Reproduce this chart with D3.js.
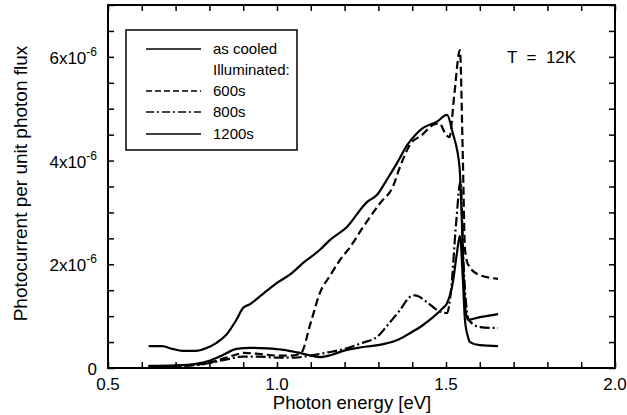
<!DOCTYPE html>
<html>
<head>
<meta charset="utf-8">
<script src="https://cdn.jsdelivr.net/npm/d3@7"></script>
<style>
  body { margin: 0; background: #fff; }
  svg { display: block; font-family: "Liberation Sans", Arial, sans-serif; }
</style>
</head>
<body>
<div id="chart"></div>
<script>
// photocurrent spectra, values in units of 1e-6 (per unit photon flux)
const asCooled = [
  [0.62, 0.42], [0.66, 0.42], [0.69, 0.37], [0.72, 0.33], [0.76, 0.33], [0.79, 0.38],
  [0.82, 0.48], [0.85, 0.64], [0.88, 0.93], [0.90, 1.16], [0.92, 1.23], [0.955, 1.41],
  [1.00, 1.64], [1.04, 1.81], [1.08, 2.04], [1.127, 2.28], [1.157, 2.47], [1.207, 2.72],
  [1.266, 3.2], [1.296, 3.34], [1.325, 3.63], [1.355, 3.95], [1.385, 4.3], [1.41, 4.5],
  [1.432, 4.63], [1.473, 4.75], [1.503, 4.88], [1.52, 4.53], [1.54, 3.88], [1.546, 3.0],
  [1.552, 1.8], [1.558, 1.1], [1.565, 0.93], [1.60, 0.98], [1.654, 1.04]
];
const ill600 = [
  [0.62, 0.03], [0.70, 0.04], [0.76, 0.06], [0.80, 0.10], [0.84, 0.18], [0.88, 0.26],
  [0.90, 0.29], [0.95, 0.27], [1.00, 0.24], [1.04, 0.24], [1.07, 0.28], [1.10, 0.88],
  [1.127, 1.45], [1.157, 1.78], [1.186, 2.08], [1.216, 2.33], [1.255, 2.72], [1.305, 3.18],
  [1.343, 3.5], [1.364, 3.88], [1.393, 4.3], [1.43, 4.5], [1.462, 4.69], [1.48, 4.72],
  [1.50, 4.5], [1.51, 4.45], [1.525, 5.3], [1.541, 6.13], [1.55, 4.0], [1.556, 2.3],
  [1.565, 2.0], [1.60, 1.79], [1.654, 1.72]
];
const ill800 = [
  [0.62, 0.03], [0.72, 0.04], [0.78, 0.07], [0.84, 0.15], [0.90, 0.22], [0.95, 0.22],
  [1.00, 0.2], [1.05, 0.2], [1.10, 0.24], [1.15, 0.3], [1.20, 0.37], [1.25, 0.48],
  [1.296, 0.6], [1.33, 0.85], [1.364, 1.12], [1.393, 1.37], [1.408, 1.4], [1.444, 1.27],
  [1.473, 1.12], [1.503, 1.06], [1.515, 1.5], [1.53, 2.8], [1.543, 3.6], [1.552, 2.0],
  [1.56, 1.2], [1.567, 0.93], [1.60, 0.79], [1.654, 0.77]
];
const ill1200 = [
  [0.62, 0.04], [0.70, 0.05], [0.76, 0.08], [0.80, 0.14], [0.84, 0.25], [0.88, 0.37],
  [0.92, 0.39], [0.97, 0.38], [1.02, 0.35], [1.06, 0.3], [1.10, 0.24], [1.127, 0.21],
  [1.16, 0.25], [1.196, 0.33], [1.25, 0.4], [1.314, 0.46], [1.36, 0.55], [1.393, 0.67],
  [1.43, 0.82], [1.462, 0.98], [1.49, 1.15], [1.503, 1.25], [1.52, 1.64], [1.532, 2.2],
  [1.541, 2.55], [1.55, 1.7], [1.556, 0.93], [1.565, 0.6], [1.571, 0.5], [1.60, 0.44],
  [1.654, 0.42]
];

const xLabels = [0.5, 1.0, 1.5, 2.0];
const yLabels = [0, 2, 4, 6];

const series = [
  { name: 'as cooled', data: asCooled, dash: null },
  { name: '600s', data: ill600, dash: '8,4' },
  { name: '800s', data: ill800, dash: '10,3,2,3' },
  { name: '1200s', data: ill1200, dash: null }
];

const W = 627, H = 415;
const margin = { top: 5, right: 12, bottom: 47, left: 108 };
const width = W - margin.left - margin.right;
const height = H - margin.top - margin.bottom;

const svg = d3.select('#chart').append('svg')
  .attr('width', W)
  .attr('height', H);
const g = svg.append('g').attr('transform', `translate(${margin.left},${margin.top})`);

const x = d3.scaleLinear().domain([0.5, 2.0]).range([0, width]);
const y = d3.scaleLinear().domain([0, 7]).range([height, 0]);

const xTicks = d3.range(5, 21).map(d => d / 10);
const yTicks = d3.range(0, 15).map(d => d / 2);

// ticks on all four sides, pointing inward
function styleAxis(sel) {
  sel.select('.domain').remove();
  sel.selectAll('.tick line').attr('stroke', '#000').attr('stroke-width', 1.5);
  sel.selectAll('.tick text').remove();
}
g.append('g').attr('transform', `translate(0,${height})`)
  .call(d3.axisBottom(x).tickValues(xTicks).tickSizeInner(-6).tickSizeOuter(0)).call(styleAxis);
g.append('g')
  .call(d3.axisTop(x).tickValues(xTicks).tickSizeInner(-6).tickSizeOuter(0)).call(styleAxis);
g.append('g')
  .call(d3.axisLeft(y).tickValues(yTicks).tickSizeInner(-6).tickSizeOuter(0)).call(styleAxis);
g.append('g').attr('transform', `translate(${width},0)`)
  .call(d3.axisRight(y).tickValues(yTicks).tickSizeInner(-6).tickSizeOuter(0)).call(styleAxis);

g.append('rect')
  .attr('width', width).attr('height', height)
  .attr('fill', 'none').attr('stroke', '#000').attr('stroke-width', 2);

// tick labels
g.selectAll('.xlab').data(xLabels).join('text')
  .attr('x', d => x(d))
  .attr('y', height + 22)
  .attr('text-anchor', 'middle')
  .style('font-size', '17px')
  .text(d => d.toFixed(1));

yLabels.forEach(v => {
  const t = g.append('text')
    .attr('x', -11)
    .attr('y', y(v) + 7)
    .attr('text-anchor', 'end')
    .style('font-size', '17px');
  if (v === 0) {
    t.text('0');
  } else {
    t.append('tspan').text(v + 'x10');
    t.append('tspan').attr('dy', -8).style('font-size', '12px').text('-6');
  }
});

// axis titles
g.append('text')
  .attr('x', 244)
  .attr('y', height + 41)
  .attr('text-anchor', 'middle')
  .style('font-size', '18.5px')
  .text('Photon energy [eV]');

g.append('text')
  .attr('transform', `translate(${-81},${y(3.5) - 3}) rotate(-90)`)
  .attr('text-anchor', 'middle')
  .style('font-size', '19px')
  .text('Photocurrent per unit photon flux');

// curves
const line = d3.line()
  .x(d => x(d[0]))
  .y(d => y(d[1]))
  .curve(d3.curveMonotoneX);

g.selectAll('.curve').data(series).join('path')
  .attr('d', d => line(d.data))
  .attr('fill', 'none')
  .attr('stroke', '#000')
  .attr('stroke-width', 2.2)
  .attr('stroke-dasharray', d => d.dash);

// annotation
g.append('text')
  .attr('x', 399)
  .attr('y', 58)
  .style('font-size', '17px')
  .attr('xml:space', 'preserve')
  .text('T  =  12K');

// legend
const leg = g.append('g').attr('transform', 'translate(18,25)');
leg.append('rect')
  .attr('width', 171).attr('height', 120)
  .attr('fill', '#fff').attr('stroke', '#000').attr('stroke-width', 1.5);

const legRows = [
  { label: 'as cooled', dash: null, yy: 19 },
  { label: 'Illuminated:', dash: undefined, yy: 40 },
  { label: '600s', dash: '6,3', yy: 61 },
  { label: '800s', dash: '8,3,2,3', yy: 82 },
  { label: '1200s', dash: null, yy: 104 }
];
legRows.forEach(r => {
  if (r.dash !== undefined) {
    leg.append('line')
      .attr('x1', 20).attr('x2', 75)
      .attr('y1', r.yy).attr('y2', r.yy)
      .attr('stroke', '#000').attr('stroke-width', 1.7)
      .attr('stroke-dasharray', r.dash);
  }
  leg.append('text')
    .attr('x', 87).attr('y', r.yy + 5)
    .style('font-size', '15px')
    .text(r.label);
});
</script>
</body>
</html>
